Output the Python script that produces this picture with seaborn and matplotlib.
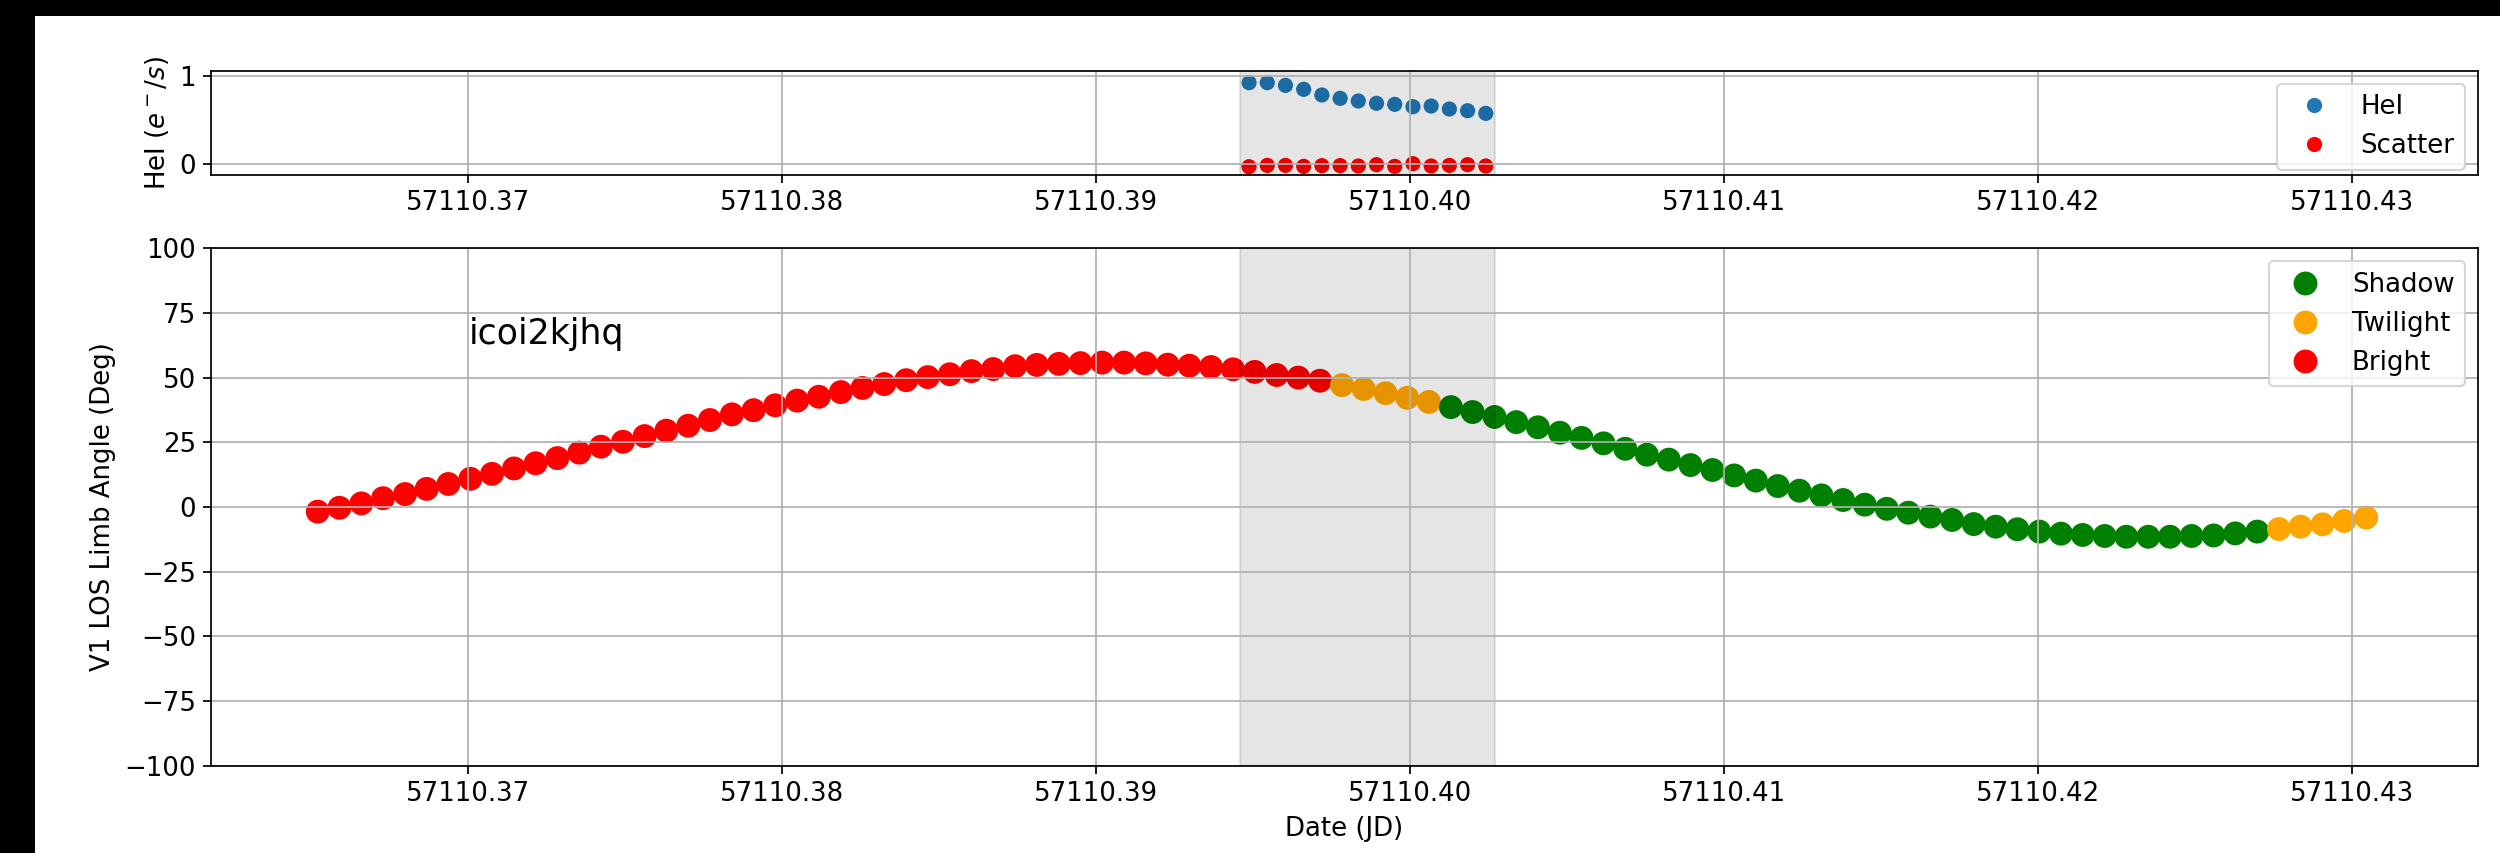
import numpy as np
import pandas as pd
import matplotlib
matplotlib.use("Agg")
import matplotlib.pyplot as plt
from matplotlib.patches import Rectangle
from matplotlib.ticker import MultipleLocator, ScalarFormatter
import seaborn as sns

# ---- V1 line-of-sight limb angle, one sample per minute (JD) ----
dates_jd = [
    57110.36520, 57110.36589, 57110.36659, 57110.36728, 57110.36798,
    57110.36867, 57110.36936, 57110.37006, 57110.37075, 57110.37145,
    57110.37214, 57110.37283, 57110.37353, 57110.37422, 57110.37492,
    57110.37561, 57110.37630, 57110.37700, 57110.37769, 57110.37839,
    57110.37908, 57110.37977, 57110.38047, 57110.38116, 57110.38186,
    57110.38255, 57110.38324, 57110.38394, 57110.38463, 57110.38533,
    57110.38602, 57110.38671, 57110.38741, 57110.38810, 57110.38880,
    57110.38949, 57110.39018, 57110.39088, 57110.39157, 57110.39227,
    57110.39296, 57110.39365, 57110.39435, 57110.39504, 57110.39574,
    57110.39643, 57110.39712, 57110.39782, 57110.39851, 57110.39921,
    57110.39990, 57110.40059, 57110.40129, 57110.40198, 57110.40268,
    57110.40337, 57110.40406, 57110.40476, 57110.40545, 57110.40615,
    57110.40684, 57110.40753, 57110.40823, 57110.40892, 57110.40962,
    57110.41031, 57110.41100, 57110.41170, 57110.41239, 57110.41309,
    57110.41378, 57110.41447, 57110.41517, 57110.41586, 57110.41656,
    57110.41725, 57110.41794, 57110.41864, 57110.41933, 57110.42003,
    57110.42072, 57110.42141, 57110.42211, 57110.42280, 57110.42350,
    57110.42419, 57110.42488, 57110.42558, 57110.42627, 57110.42697,
    57110.42766, 57110.42835, 57110.42905, 57110.42974, 57110.43044,
]
limb_angle = [
    -1.8, -0.3, 1.4, 3.4, 5.0, 7.0, 8.9, 10.9, 12.8, 14.9,
    16.9, 18.9, 21.0, 23.3, 25.2, 27.4, 29.5, 31.4, 33.6, 35.8,
    37.4, 39.3, 41.1, 42.6, 44.4, 46.0, 47.5, 49.0, 50.2, 51.3,
    52.5, 53.3, 54.4, 54.9, 55.3, 55.6, 55.8, 55.8, 55.5, 55.0,
    54.6, 54.1, 53.2, 52.2, 51.0, 50.0, 48.8, 47.1, 45.6, 44.0,
    42.2, 40.6, 38.6, 36.7, 34.8, 32.8, 30.8, 28.7, 26.7, 24.6,
    22.5, 20.2, 18.3, 16.2, 14.3, 12.2, 10.2, 8.1, 6.3, 4.5,
    2.7, 0.9, -0.7, -2.2, -3.7, -5.0, -6.6, -7.6, -8.6, -9.5,
    -10.3, -10.8, -11.2, -11.5, -11.5, -11.5, -11.2, -11.0, -10.2, -9.5,
    -8.5, -7.6, -6.7, -5.4, -4.1,
]
orbit_state = (["Bright"] * 47 + ["Twilight"] * 5
               + ["Shadow"] * 38 + ["Twilight"] * 5)
state_order = ["Shadow", "Twilight", "Bright"]
state_colors = {"Shadow": "green", "Twilight": "orange", "Bright": "red"}

# ---- exposure read-outs: HeI and scatter count rates ----
read_jd = [
    57110.39486, 57110.39544, 57110.39602, 57110.39660, 57110.39718,
    57110.39776, 57110.39834, 57110.39892, 57110.39950, 57110.40008,
    57110.40066, 57110.40124, 57110.40182, 57110.40240,
]
hei_rate = [0.924, 0.924, 0.894, 0.849, 0.785, 0.747, 0.717,
            0.691, 0.679, 0.652, 0.660, 0.626, 0.607, 0.577]
scatter_rate = [-0.027, -0.012, -0.012, -0.023, -0.015, -0.015, -0.019,
                -0.004, -0.023, 0.007, -0.019, -0.012, -0.004, -0.019]
rate_colors = {"HeI": "#1f77b4", "Scatter": "red"}

exposure_start, exposure_end = 57110.39457, 57110.40269
dataset_name = "icoi2kjhq"
x_range = (57110.3618, 57110.4340)

DPI = 156.25
fig = plt.figure(figsize=(2500 / DPI, 853 / DPI), dpi=DPI)
fig.patch.set_facecolor("black")
fig.add_artist(Rectangle((35 / 2500, 0), 1, 1 - 16 / 853,
                         transform=fig.transFigure, facecolor="white",
                         edgecolor="none", zorder=-10))

left, width = 211 / 2500, (2478 - 211) / 2500
ax_top = fig.add_axes([left, 1 - 175 / 853, width, (175 - 70.7) / 853])
ax_bot = fig.add_axes([left, 1 - 765.8 / 853, width, (765.8 - 248.2) / 853])

# ---- top panel: count rates during the exposure ----
rate_df = pd.DataFrame({
    "date": read_jd * 2,
    "rate": hei_rate + scatter_rate,
    "series": ["HeI"] * len(read_jd) + ["Scatter"] * len(read_jd),
})
sns.scatterplot(data=rate_df, x="date", y="rate", hue="series",
                hue_order=["HeI", "Scatter"], palette=rate_colors,
                s=49, linewidth=0, ax=ax_top)
ax_top.axvspan(exposure_start, exposure_end, color="k", alpha=0.1)
ax_top.set_ylim(-0.121, 1.06)
ax_top.set_yticks([0, 1])
ax_top.set_ylabel(r"HeI ($e^-/s$)", fontsize=12)
ax_top.set_xlabel("")
sns.move_legend(ax_top, "upper right", title=None, fontsize=12)

# ---- bottom panel: limb angle coloured by orbital illumination ----
angle_df = pd.DataFrame({"date": dates_jd, "angle": limb_angle,
                         "state": orbit_state})
sns.scatterplot(data=angle_df, x="date", y="angle", hue="state",
                hue_order=state_order, palette=state_colors,
                s=121, linewidth=0, ax=ax_bot)
ax_bot.axvspan(exposure_start, exposure_end, color="k", alpha=0.1)
ax_bot.text(57110.37, 63, dataset_name, fontsize=16)
ax_bot.set_ylim(-100, 100)
ax_bot.yaxis.set_major_locator(MultipleLocator(25))
ax_bot.set_ylabel("V1 LOS Limb Angle (Deg)", fontsize=12)
ax_bot.set_xlabel("Date (JD)", fontsize=12)
sns.move_legend(ax_bot, "upper right", title=None, fontsize=12)

for ax in (ax_top, ax_bot):
    ax.set_xlim(*x_range)
    ax.xaxis.set_major_locator(MultipleLocator(0.01))
    fmt = ScalarFormatter(useOffset=False)
    ax.xaxis.set_major_formatter(fmt)
    ax.tick_params(labelsize=12)
    ax.set_axisbelow("line")
    ax.grid(True, color="#b0b0b0", linewidth=0.8)

fig.savefig("out.png", dpi=DPI)
